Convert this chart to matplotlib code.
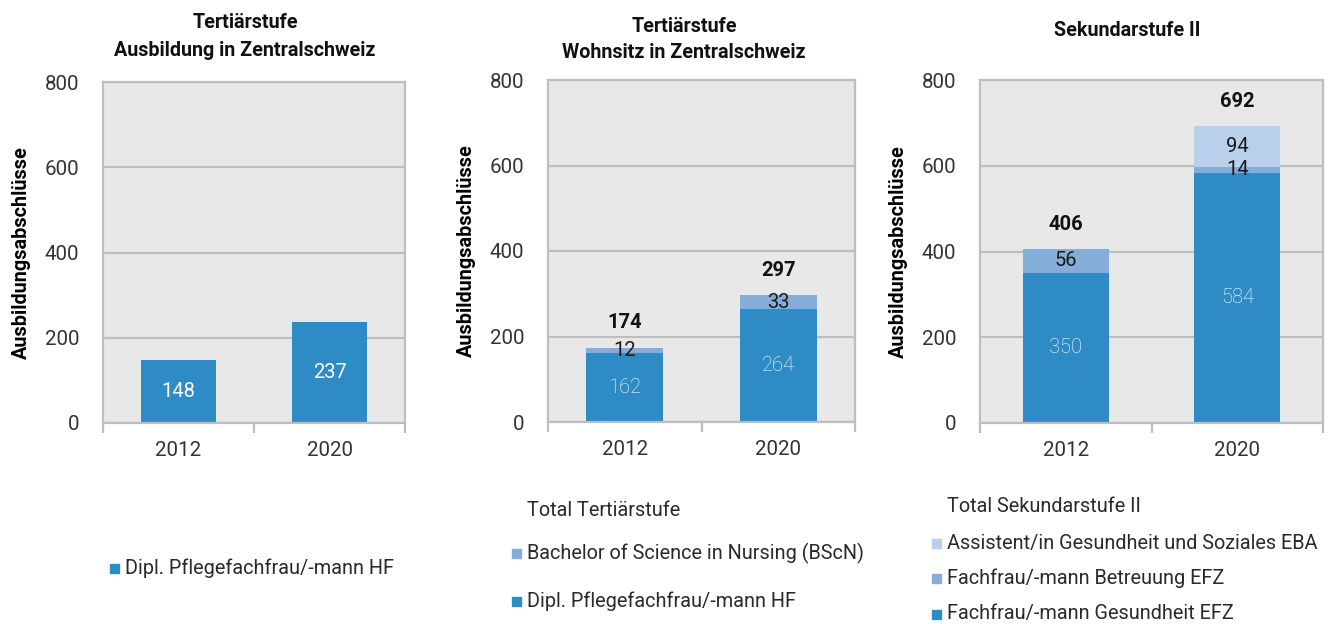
import matplotlib
matplotlib.use("Agg")
import matplotlib.pyplot as plt
from matplotlib.patches import Rectangle

plt.rcParams['font.family'] = ['Roboto', 'DejaVu Sans']

years = ["2012", "2020"]

# Panel 1: Tertiärstufe, Ausbildung in Zentralschweiz
p1_hf = [148, 237]

# Panel 2: Tertiärstufe, Wohnsitz in Zentralschweiz
p2_hf = [162, 264]
p2_bscn = [12, 33]
p2_total = [174, 297]

# Panel 3: Sekundarstufe II
p3_fage = [350, 584]
p3_fabe = [56, 14]
p3_eba = [0, 94]
p3_total = [406, 692]

titles = ["Tertiärstufe\nAusbildung in Zentralschweiz",
          "Tertiärstufe\nWohnsitz in Zentralschweiz",
          "Sekundarstufe II"]
ylabel = "Ausbildungsabschlüsse"

legend1 = ["Dipl. Pflegefachfrau/-mann HF"]
legend2 = ["Total Tertiärstufe", "Bachelor of Science in Nursing (BScN)", "Dipl. Pflegefachfrau/-mann HF"]
legend3 = ["Total Sekundarstufe II", "Assistent/in Gesundheit und Soziales EBA",
           "Fachfrau/-mann Betreuung EFZ", "Fachfrau/-mann Gesundheit EFZ"]

C_DARK = "#2E8BC6"
C_MID = "#84AED9"
C_LIGHT = "#B9D0EA"
BG = "#E8E8E8"
GRID = "#BEBEBE"
FS = 14.5

W, H = 1329, 624
fig = plt.figure(figsize=(W / 100, H / 100), dpi=100)

def box(x0, x1, ytop, ybot):
    return [x0 / W, 1 - ybot / H, (x1 - x0) / W, (ybot - ytop) / H]

axes = [fig.add_axes(box(103, 405, 82, 423)),
        fig.add_axes(box(548, 855, 80, 422)),
        fig.add_axes(box(980, 1323, 80, 423))]

x = list(range(len(years)))
bw = 0.5

def style(ax):
    ax.set_facecolor(BG)
    ax.set_xlim(-0.5, 1.5)
    ax.set_ylim(0, 800)
    ax.set_yticks([0, 200, 400, 600, 800])
    ax.yaxis.grid(True, color=GRID, linewidth=1.6)
    ax.set_axisbelow(True)
    for s in ax.spines.values():
        s.set_color(GRID)
        s.set_linewidth(1.6)
    ax.set_xticks([-0.5, 0.5, 1.5], minor=False)
    ax.set_xticklabels([])
    ax.set_xticks(x, minor=True)
    ax.set_xticklabels(years, minor=True)
    ax.tick_params(axis='x', which='major', length=7, color=GRID, width=1.6)
    ax.tick_params(axis='x', which='minor', length=0, pad=13, labelsize=14.8, labelcolor="#333333")
    ax.tick_params(axis='y', length=0, pad=17, labelsize=14.8, labelcolor="#333333")
    ax.set_ylabel(ylabel, fontsize=14.3, fontweight='bold', labelpad=10)

def centered_labels(ax, bottoms, vals, color, weight):
    for xi, b, v in zip(x, bottoms, vals):
        if v > 0:
            ax.text(xi, b + v / 2, str(v), ha='center', va='center', fontsize=FS,
                    color=color, fontweight=weight)

def totals(ax, vals):
    for xi, t in zip(x, vals):
        ax.text(xi, t + 58, str(t), ha='center', va='center', fontsize=FS,
                fontweight='bold', color="#111111")

# Panel 1
ax = axes[0]
ax.bar(x, p1_hf, bw, color=C_DARK)
centered_labels(ax, [0, 0], p1_hf, "white", 'normal')
style(ax)

# Panel 2
ax = axes[1]
ax.bar(x, p2_hf, bw, color=C_DARK)
ax.bar(x, p2_bscn, bw, bottom=p2_hf, color=C_MID)
centered_labels(ax, [0, 0], p2_hf, "white", 'light')
centered_labels(ax, p2_hf, p2_bscn, "#1a1a1a", 'normal')
totals(ax, p2_total)
style(ax)

# Panel 3
ax = axes[2]
b2 = [a + b for a, b in zip(p3_fage, p3_fabe)]
ax.bar(x, p3_fage, bw, color=C_DARK)
ax.bar(x, p3_fabe, bw, bottom=p3_fage, color=C_MID)
ax.bar(x, p3_eba, bw, bottom=b2, color=C_LIGHT)
centered_labels(ax, [0, 0], p3_fage, "white", 'light')
centered_labels(ax, p3_fage, p3_fabe, "#1a1a1a", 'normal')
centered_labels(ax, b2, p3_eba, "#1a1a1a", 'normal')
totals(ax, p3_total)
style(ax)

# Titles (figure coordinates)
title_pos = [(245, 23), (684, 26), (1127, 30)]
for t, (cx, cy) in zip(titles, title_pos):
    for i, line in enumerate(t.split("\n")):
        fig.text(cx / W, 1 - (cy + 27 * i) / H, line, ha='center', va='center',
                 fontsize=14.2, fontweight='bold', color="#111111")

# Legends drawn manually in figure coordinates
def legend_item(xm, y, label, color):
    if color is not None:
        fig.patches.append(Rectangle((xm / W, 1 - (y + 4.5) / H), 9 / W, 9 / H,
                                     transform=fig.transFigure, color=color, figure=fig))
    fig.text((xm + 15) / W, 1 - y / H, label, ha='left', va='center', fontsize=14.3,
             color="#2a2a2a", fontweight='normal')

legend_item(110, 568, legend1[0], C_DARK)

legend_item(512, 510, legend2[0], None)
legend_item(512, 553, legend2[1], C_MID)
legend_item(512, 601, legend2[2], C_DARK)

legend_item(932, 507, legend3[0], None)
legend_item(932, 543, legend3[1], C_LIGHT)
legend_item(932, 578, legend3[2], C_MID)
legend_item(932, 614, legend3[3], C_DARK)

fig.savefig("out.png", dpi=100, facecolor="white")
